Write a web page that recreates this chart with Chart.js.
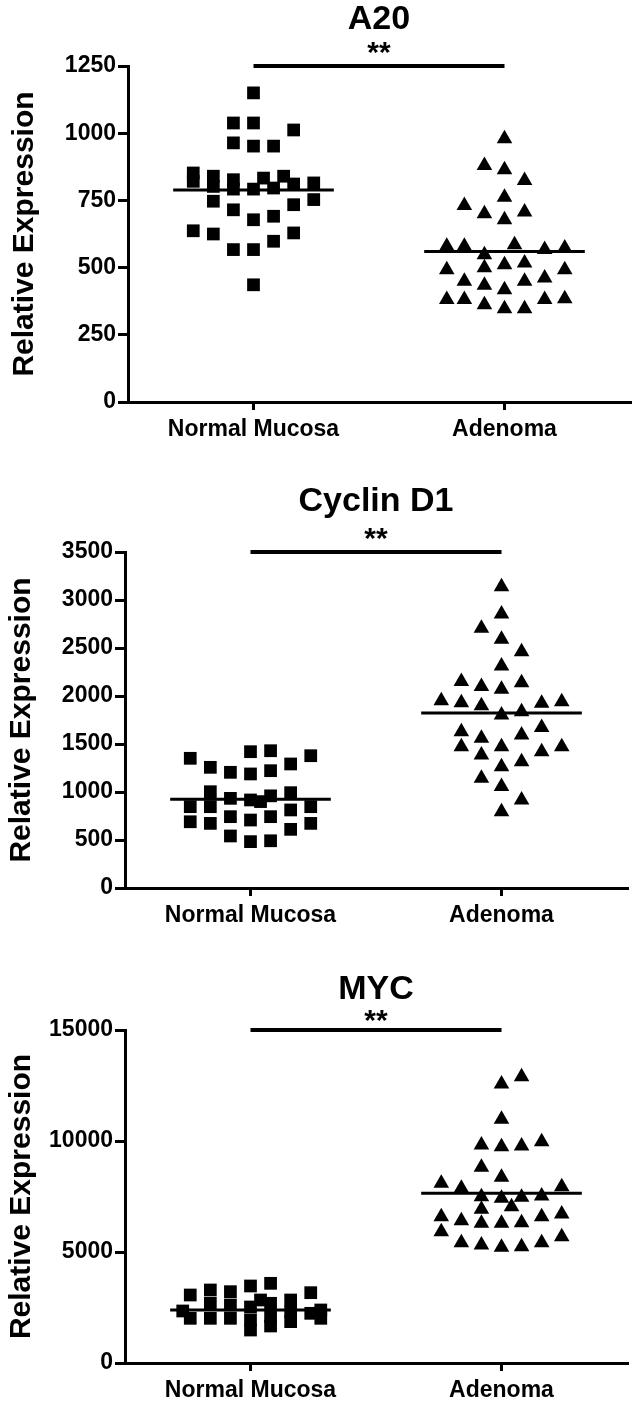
<!DOCTYPE html>
<html>
<head>
<meta charset="utf-8">
<script src="https://cdn.jsdelivr.net/npm/chart.js@4.4.1/dist/chart.umd.min.js"></script>
<style>
  body { margin: 0; background: #fff; }
  #wrap { position: relative; width: 642px; height: 1405px; }
  canvas { position: absolute; left: 0; }
</style>
</head>
<body>
<div id="wrap">
  <canvas id="chartA20" width="642" height="468" style="top:0px"></canvas>
  <canvas id="chartCyclin" width="642" height="468" style="top:468px"></canvas>
  <canvas id="chartMyc" width="642" height="469" style="top:936px"></canvas>
</div>
<script>
// ---- data ----
const groups = ['Normal Mucosa', 'Adenoma'];
const yTitle = 'Relative Expression';
const sigLabel = '**';

// A20
const a20Normal = [1150, 1038, 1038, 1012, 964, 952, 952, 852, 821, 840, 802, 827, 792, 792, 833, 796, 840, 811, 815,
  747, 715, 734, 753, 678, 691, 637, 625, 629, 567, 567, 598, 436];
// spread of each point inside its column (category units)
const a20NormalSpread = [0, -0.08, 0, 0.16, -0.08, 0, 0.08, -0.24, -0.24, -0.16, -0.16, -0.08, -0.08, 0, 0.04, 0.08, 0.12, 0.16, 0.24,
  -0.16, -0.08, 0.16, 0.24, 0, 0.08, -0.24, -0.16, 0.16, -0.08, 0, 0.08, 0];
const a20Adenoma = [979, 880, 864, 824, 762, 731, 700, 707, 678, 579, 579, 585, 567, 573, 548, 499, 511, 517, 492, 492,
  461, 449, 434, 418, 449, 381, 381, 362, 347, 347, 381, 384];
const a20AdenomaSpread = [0, -0.08, 0, 0.08, 0, -0.16, -0.08, 0.08, 0, -0.23, -0.16, 0.04, 0.16, 0.24, -0.08, -0.08, 0, 0.08, -0.23, 0.24,
  0.16, -0.16, -0.08, 0, 0.08, -0.23, -0.16, -0.08, 0, 0.08, 0.16, 0.24];
const a20Means = [789, 560];
const a20Ticks = [0, 250, 500, 750, 1000, 1250];

// Cyclin D1
const cycNormal = [1351, 1257, 1205, 1420, 1188, 1430, 1222, 1292, 1378, 847, 690, 1003, 847, 673, 934, 743, 542,
  917, 708, 483, 900, 960, 743, 492, 993, 813, 611, 847, 673];
const cycNormalSpread = [-0.24, -0.16, -0.08, 0, 0, 0.08, 0.08, 0.16, 0.24, -0.24, -0.24, -0.16, -0.16, -0.16, -0.08, -0.08, -0.08,
  0, 0, 0, 0.04, 0.08, 0.08, 0.08, 0.16, 0.16, 0.16, 0.24, 0.24];
const cycAdenoma = [3139, 2855, 2706, 2591, 2462, 2313, 2150, 2098, 2070, 2139, 1951, 1930, 1899, 1802, 1837, 1924, 1941,
  1628, 1472, 1559, 1385, 1472, 1264, 1594, 1316, 1672, 1420, 1472, 1143, 1056, 917, 794];
const cycAdenomaSpread = [0, 0, -0.08, 0, 0.08, 0, -0.16, -0.08, 0, 0.08, -0.24, -0.16, -0.08, 0, 0.08, 0.16, 0.24,
  -0.16, -0.16, -0.08, -0.08, 0, 0, 0.08, 0.08, 0.16, 0.16, 0.24, -0.08, 0, 0.08, 0];
const cycMeans = [924, 1823];
const cycTicks = [0, 500, 1000, 1500, 2000, 2500, 3000, 3500];

// MYC
const mycNormal = [2343, 3063, 2013, 3289, 2689, 2013, 3213, 2613, 2013, 3469, 2523, 1937, 1486, 2838,
  3589, 2689, 2087, 1667, 2838, 2313, 1862, 3168, 2238, 2388, 2013];
const mycNormalSpread = [-0.27, -0.24, -0.24, -0.16, -0.16, -0.16, -0.08, -0.08, -0.08, 0, 0, 0, 0, 0.04,
  0.08, 0.08, 0.08, 0.08, 0.16, 0.16, 0.16, 0.24, 0.24, 0.28, 0.28];
const mycAdenoma = [12569, 12898, 10979, 9821, 9745, 9776, 9970, 8816, 8366, 8096, 7871, 7944, 7493, 7420, 7465, 7523,
  6924, 7041, 6591, 6411, 6294, 6294, 6321, 6591, 6712, 5915, 5420, 5316, 5212, 5241, 5420, 5690];
const mycAdenomaSpread = [0, 0.08, 0, -0.08, 0, 0.08, 0.16, -0.08, 0, -0.24, -0.16, 0.24, -0.08, 0, 0.08, 0.16,
  -0.08, 0.04, -0.24, -0.16, -0.08, 0, 0.08, 0.16, 0.24, -0.24, -0.16, -0.08, 0, 0.08, 0.16, 0.24];
const mycMeans = [2388, 7646];
const mycTicks = [0, 5000, 10000, 15000];

// ---- drawing ----
const FONT = '"Liberation Sans", Arial, sans-serif';
Chart.defaults.font.family = FONT;
Chart.defaults.color = '#000';

const panelText = {
  id: 'panelText',
  afterDraw(chart, args, opts) {
    const { ctx, chartArea, scales } = chart;
    const cx = (scales.x.getPixelForValue(1) + scales.x.getPixelForValue(2)) / 2;
    ctx.save();
    ctx.fillStyle = '#000';
    ctx.textAlign = 'center';
    ctx.textBaseline = 'middle';
    ctx.font = 'bold 34px ' + FONT;
    ctx.fillText(opts.title, cx, chartArea.top - opts.titleGap);
    ctx.font = 'bold 30px ' + FONT;
    ctx.fillText(opts.sig, cx, chartArea.top - opts.sigGap);
    ctx.restore();
  }
};

const toPoints = (values, spread, center) => values.map((v, i) => ({ x: center + spread[i], y: v }));

const makePanel = (canvasId, box, gene, normal, normalSpread, adenoma, adenomaSpread, means, ticks) => {
  const canvas = document.getElementById(canvasId);
  const h = canvas.height;
  const yMax = ticks[ticks.length - 1];
  const yWidth = 121;
  const xHeight = 40;

  const meanLine = (center, m) => ({
    type: 'line',
    data: [{ x: center - 0.32, y: m }, { x: center + 0.32, y: m }],
    borderColor: '#000',
    borderWidth: 3,
    pointRadius: 0,
    clip: false
  });

  new Chart(canvas, {
    type: 'scatter',
    data: {
      datasets: [
        {
          data: toPoints(normal, normalSpread, 1),
          pointStyle: 'rect',
          pointRadius: 9,
          pointBorderWidth: 0,
          backgroundColor: '#000',
          borderColor: '#000'
        },
        {
          data: toPoints(adenoma, adenomaSpread, 2),
          pointStyle: 'triangle',
          pointRadius: 9,
          pointBorderWidth: 0,
          backgroundColor: '#000',
          borderColor: '#000'
        },
        meanLine(1, means[0]),
        meanLine(2, means[1]),
        {
          type: 'line',
          data: [{ x: 1, y: yMax }, { x: 2, y: yMax }],
          borderColor: '#000',
          borderWidth: 4,
          pointRadius: 0,
          clip: false
        }
      ]
    },
    options: {
      responsive: false,
      animation: false,
      events: [],
      layout: {
        padding: {
          left: box.left - yWidth,
          right: canvas.width - box.right,
          top: box.top,
          bottom: h - box.bottom - xHeight
        }
      },
      plugins: {
        legend: { display: false },
        tooltip: { enabled: false },
        panelText: { title: gene, sig: sigLabel, titleGap: box.titleGap, sigGap: box.sigGap }
      },
      scales: {
        x: {
          type: 'linear',
          min: 0.5,
          max: 2.5,
          afterBuildTicks: (scale) => { scale.ticks = groups.map((g, i) => ({ value: i + 1 })); },
          afterFit: (scale) => { scale.height = xHeight; },
          ticks: {
            callback: (value) => groups[value - 1],
            font: { size: 23, weight: 'bold' },
            padding: 6,
            maxRotation: 0,
            autoSkip: false
          },
          grid: { display: true, drawOnChartArea: false, drawTicks: true, tickLength: 8, lineWidth: 3, color: '#000' },
          border: { display: true, width: 3, color: '#000' }
        },
        y: {
          min: 0,
          max: yMax,
          afterBuildTicks: (scale) => { scale.ticks = ticks.map(v => ({ value: v })); },
          afterFit: (scale) => { scale.width = yWidth; },
          ticks: {
            callback: (value) => String(value),
            font: { size: 23, weight: 'bold' },
            padding: 2,
            autoSkip: false
          },
          title: {
            display: true,
            text: yTitle,
            font: { size: 30, weight: 'bold' },
            padding: 0
          },
          grid: { display: true, drawOnChartArea: false, drawTicks: true, tickLength: 10, lineWidth: 3, color: '#000' },
          border: { display: true, width: 3, color: '#000' }
        }
      }
    },
    plugins: [panelText]
  });
};

makePanel('chartA20', { left: 128, right: 630, top: 66, bottom: 402, titleGap: 46, sigGap: 12 },
  'A20', a20Normal, a20NormalSpread, a20Adenoma, a20AdenomaSpread, a20Means, a20Ticks);
makePanel('chartCyclin', { left: 125, right: 627, top: 84, bottom: 420, titleGap: 50, sigGap: 12 },
  'Cyclin D1', cycNormal, cycNormalSpread, cycAdenoma, cycAdenomaSpread, cycMeans, cycTicks);
makePanel('chartMyc', { left: 125, right: 627, top: 94, bottom: 427, titleGap: 40, sigGap: 8 },
  'MYC', mycNormal, mycNormalSpread, mycAdenoma, mycAdenomaSpread, mycMeans, mycTicks);
</script>
</body>
</html>
